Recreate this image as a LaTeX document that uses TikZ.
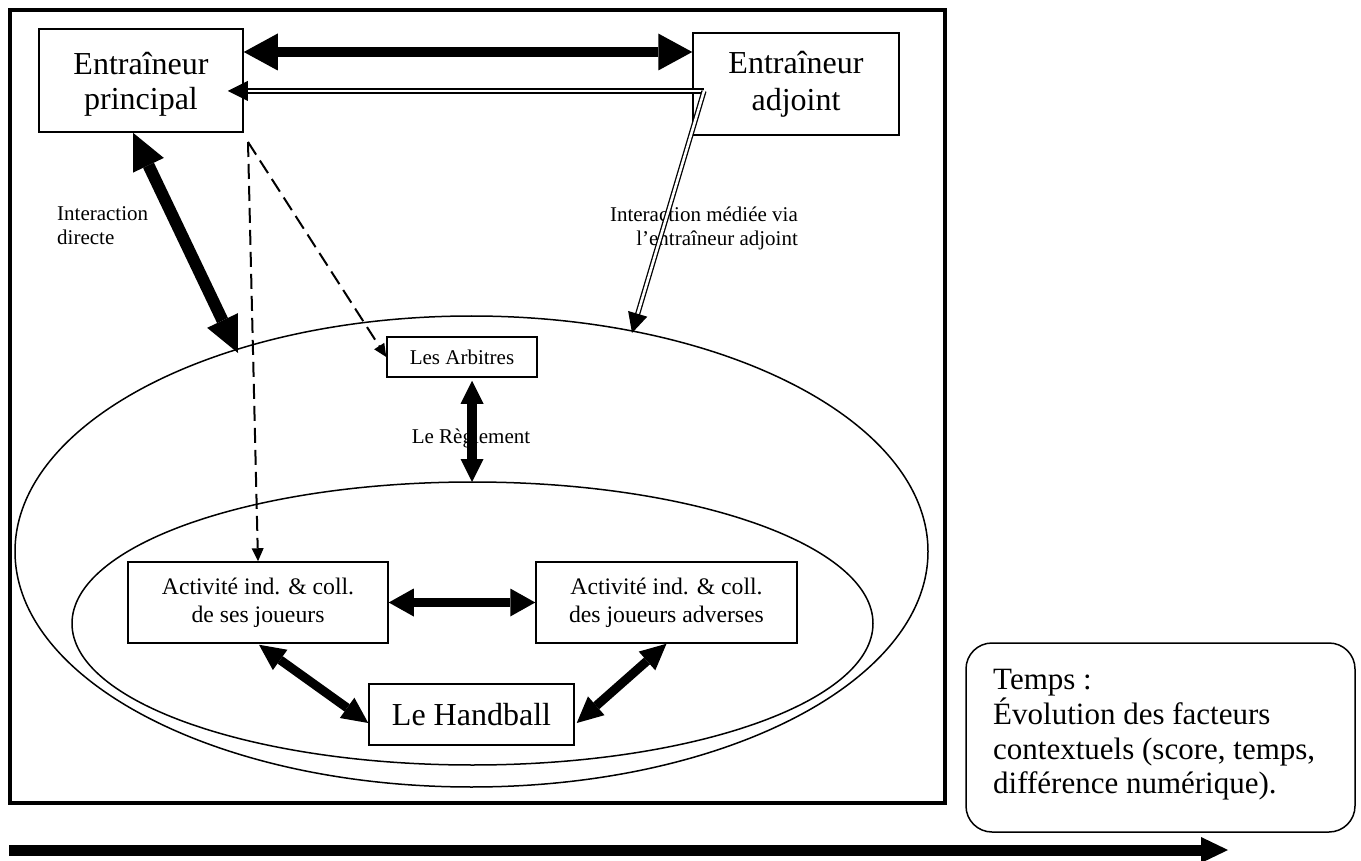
\documentclass[tikz,border=0pt]{standalone}
\usepackage{fontspec}
\setmainfont{Liberation Serif}
\usetikzlibrary{arrows.meta,calc}
\tikzset{
  box/.style={draw,line width=1.5pt,fill=white,inner sep=0pt,align=center},
  frameline/.style={line width=4pt},
  ell/.style={line width=1.5pt},
  bigtxt/.style={font=\fontsize{32}{35}\selectfont},
  bigtxtb/.style={font=\fontsize{32}{37}\selectfont},
  midtxt/.style={font=\fontsize{23.7}{28}\selectfont},
  smalltxt/.style={font=\fontsize{21}{24}\selectfont},
  temptxt/.style={font=\fontsize{31}{34.7}\selectfont},
  arrF/.style={line width=10pt,{Triangle[length=34pt,width=37pt,line width=0pt]}-{Triangle[length=34pt,width=37pt,line width=0pt]}},
  arrD/.style={line width=12pt,{Triangle[length=36pt,width=34pt,line width=0pt]}-{Triangle[length=36pt,width=34pt,line width=0pt]}},
  arrR/.style={line width=10pt,{Triangle[length=23pt,width=23pt,line width=0pt]}-{Triangle[length=23pt,width=23pt,line width=0pt]}},
  arrH/.style={line width=9pt,{Triangle[length=25pt,width=28pt,line width=0pt]}-{Triangle[length=25pt,width=28pt,line width=0pt]}},
  arrS/.style={line width=9pt,{Triangle[length=26pt,width=25pt,line width=0pt]}-{Triangle[length=26pt,width=25pt,line width=0pt]}},
  arrT/.style={line width=11pt,-{Triangle[length=27pt,width=26pt,line width=0pt]}},
  dsh/.style={line width=2pt,dash pattern=on 15pt off 7pt,-{Triangle[length=13pt,width=12pt,line width=0pt]}},
  dbl/.style={line width=1.3pt,double,double distance=2.6pt,shorten >=18pt},
  dblhead/.style={line width=0.5pt,-{Triangle[length=20pt,width=20pt,line width=0pt]}}
}
\begin{document}
\begin{tikzpicture}[x=1pt,y=-1pt]
\useasboundingbox (0,0) rectangle (1361,861);
% outer frame
\draw[frameline] (10,10) rectangle (945,803);
% ellipses
\draw[ell] (471.5,551.5) ellipse [x radius=456.5pt, y radius=235.5pt];
\draw[ell] (472.5,623.5) ellipse [x radius=400.5pt, y radius=141.5pt];
% boxes
\node[box,bigtxt,minimum width=204pt,minimum height=103pt] (princ) at (141,80.5) {\rule{0pt}{30pt}Entraîneur\\principal};
\node[box,bigtxtb,minimum width=206pt,minimum height=102pt] (adj) at (796,84) {Entraîneur\\adjoint};
\node[box,smalltxt,minimum width=150pt,minimum height=40pt] (arb) at (462,357) {Les Arbitres};
\node[box,midtxt,minimum width=260pt,minimum height=81pt] (ses) at (258,602.5) {Activité ind. \& coll.\\de ses joueurs};
\node[box,midtxt,minimum width=261pt,minimum height=81pt] (adv) at (666.5,602.5) {Activité ind. \& coll.\\des joueurs adverses};
\node[box,bigtxt,minimum width=205pt,minimum height=61pt] (hand) at (471.5,714.5) {Le Handball};
\node[draw,line width=1.5pt,rounded corners=26pt,minimum width=389pt,minimum height=189pt,inner sep=0pt] (temps) at (1160.5,737.5) {};
\node[temptxt,align=left,anchor=west,inner sep=0pt] (tempstxt) at (993,735) {Temps :\\Évolution des facteurs\\contextuels (score, temps,\\différence numérique).};
% labels
\node[smalltxt,align=left,anchor=west,inner sep=0pt] (lbldir) at (57,226) {Interaction\\directe};
\node[smalltxt,align=right,anchor=east,inner sep=0pt] (lblmed) at (798,228) {Interaction médiée via\\l’entraîneur adjoint};
\node[smalltxt,inner sep=0pt] (lblreg) at (471,438) {Le Règlement};
% coordinates
\coordinate (yt) at (0,52);
\coordinate (yd) at (0,91);
\coordinate (adjo) at (704,91);
\coordinate (eA) at (238,353);
\coordinate (eB) at (632,333);
\coordinate (iTop) at (472,482);
\coordinate (apex) at (248,142);
\coordinate (bstart) at (9,850);
\coordinate (bend) at (1228,850);
\coordinate (pTip) at ($(princ.east |- yd)+(-16,0)$);
% connectors
\draw[arrF] (princ.east |- yt) -- (adj.west |- yt);
\draw[dbl] (adjo) -- (pTip);
\draw[dblhead] ($(pTip)!20pt!(adjo)$) -- (pTip);
\draw[dbl] (adjo) -- (eB);
\draw[dblhead] ($(eB)!20pt!(adjo)$) -- (eB);
\draw[arrD] ($(princ.south)+(-8,0)$) -- (eA);
\draw[dsh] (apex) -- (arb.west);
\draw[dsh] (apex) -- (ses.north);
\draw[arrR] ($(arb.south)+(10,3)$) -- (iTop);
\draw[arrH] (ses.east) -- (adv.west);
\draw[arrS] ($(ses.south)+(1,1)$) -- ($(hand.west)+(0,8.5)$);
\draw[arrS] ($(hand.east)+(2,8.5)$) -- (adv.south);
\draw[arrT] (bstart) -- (bend);
\end{tikzpicture}
\end{document}
